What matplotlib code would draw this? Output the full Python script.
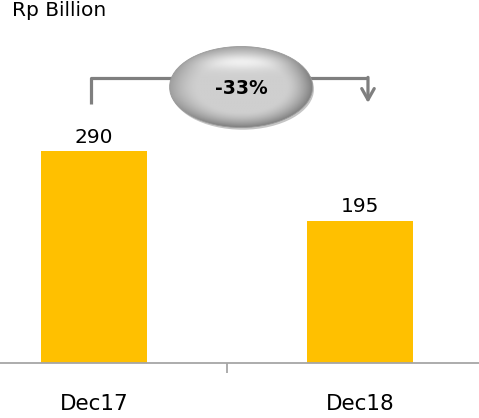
import numpy as np
import matplotlib
matplotlib.use("Agg")
import matplotlib.pyplot as plt
from matplotlib.patches import Ellipse

# values in Rp Billion
periods = ["Dec17", "Dec18"]
amounts = [290, 195]

bar_color = "#FFC000"
line_color = "#7F7F7F"

plt.rcParams["font.family"] = ["DejaVu Sans"]

fig = plt.figure(figsize=(4.79, 4.18), dpi=100)
ax = fig.add_axes([0, 55 / 418, 1, 363 / 418])

x = np.arange(len(periods))
bars = ax.bar(x, amounts, width=0.4, color=bar_color, zorder=2)

for xi, v in zip(x, amounts):
    ax.annotate(f"{v}", (xi, v), xytext=(0, 3), textcoords="offset points",
                ha="center", va="bottom", fontsize=14.5)

ax.set_xlim(-94 / 266, 385 / 266)
ax.set_ylim(0, 363 / 0.7305)

# axes styling: only the baseline with a divider tick between categories
for side in ["top", "right", "left"]:
    ax.spines[side].set_visible(False)
ax.spines["bottom"].set_color("#A6A6A6")
ax.spines["bottom"].set_linewidth(1.3)
ax.set_yticks([])
ax.set_xticks(x)
ax.set_xticklabels(periods, fontsize=15.5)
ax.tick_params(axis="x", which="major", length=0, pad=22)
ax.set_xticks([0.5], minor=True)
ax.tick_params(axis="x", which="minor", length=7, width=1.3, color="#A6A6A6",
               direction="out")

# change bracket from first to second period
change = (amounts[1] - amounts[0]) / amounts[0] * 100
top_y = 390
ax.plot([x[0] - 0.01, x[0] - 0.01, x[1] + 0.03], [amounts[0] + 64, top_y, top_y],
        color=line_color, lw=2.3, solid_capstyle="butt", zorder=3)
ax.annotate("", xy=(x[1] + 0.03, amounts[0] + 66), xytext=(x[1] + 0.03, top_y + 1),
            arrowprops=dict(arrowstyle="->,head_length=0.8,head_width=0.45",
                            color=line_color, lw=2.3, shrinkA=0, shrinkB=0),
            zorder=3)

# silver oval badge
cx, cy, w, h = 0.553, 377.8, 0.538, 110.9
shadow = Ellipse((cx + 0.005, cy - 3), w, h, facecolor="#8C8C8C", edgecolor="none",
                 zorder=4, alpha=0.5)
ax.add_patch(shadow)
gy, gx = np.mgrid[-1:1:240j, -1:1:240j]
rr = np.sqrt(gx ** 2 + gy ** 2)
rim = np.clip((rr - 0.62) / 0.38, 0, 1) ** 1.5
dark_side = 0.55 + 0.45 * np.clip((gx + gy) / 1.4 + 0.5, 0, 1)
highlight = np.exp(-(gx ** 2 / 0.35 + (gy + 0.62) ** 2 / 0.04))
shade = 0.81 + 0.13 * highlight - 0.33 * rim * dark_side
img = ax.imshow(shade, cmap="gray", vmin=0, vmax=1, origin="upper",
                extent=[cx - w / 2, cx + w / 2, cy - h / 2, cy + h / 2],
                aspect="auto", zorder=5, interpolation="bilinear")
clip = Ellipse((cx, cy), w, h, transform=ax.transData)
img.set_clip_path(clip)
ax.add_patch(Ellipse((cx, cy), w, h, facecolor="none", edgecolor="#9A9A9A",
                     lw=0.6, zorder=6))
ax.text(cx, cy - 2, f"{change:.0f}%", ha="center", va="center", fontsize=13.5,
        fontweight="bold", zorder=7)

fig.text(12 / 479, 1 - 1 / 418, "Rp Billion", ha="left", va="top", fontsize=14.5)

fig.savefig("out.png", dpi=100)
